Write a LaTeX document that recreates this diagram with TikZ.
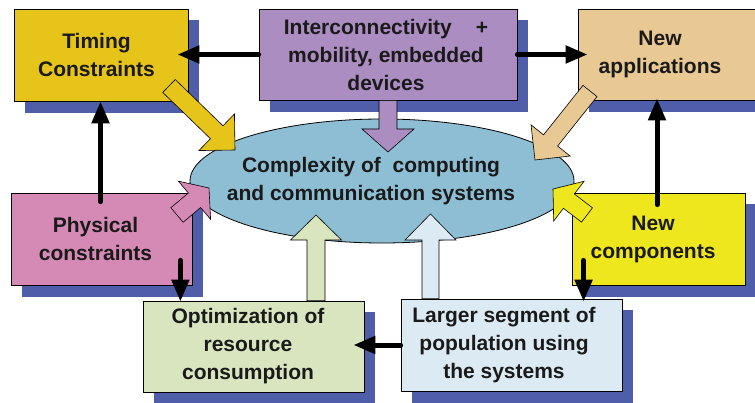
\documentclass[tikz,border=0pt]{standalone}
\usepackage{fontspec}
\setmainfont{Liberation Sans}
\usetikzlibrary{calc,arrows.meta,shapes.geometric}
\definecolor{cTiming}{HTML}{E6C41A}
\definecolor{cInter}{HTML}{AB8DC1}
\definecolor{cApp}{HTML}{E8C893}
\definecolor{cEll}{HTML}{8DBED4}
\definecolor{cPhys}{HTML}{D58AB6}
\definecolor{cOpt}{HTML}{D8E5BF}
\definecolor{cLarge}{HTML}{DCEAF4}
\definecolor{cComp}{HTML}{EEE71E}
\definecolor{cShadow}{HTML}{4E5EA8}
\definecolor{cText}{HTML}{1A1A1A}
\pgfdeclarelayer{bg}
\pgfsetlayers{bg,main}
\newcommand\fatarrow[6]{% #1 fill, #2 tail, #3 tip, #4 shaft half width, #5 head half width, #6 head length
  \coordinate (fahb) at ($(#3)!#6!(#2)$);
  \draw[fat, fill=#1] ($(#2)!#4!90:(#3)$) -- ($(fahb)!#4!90:(#3)$) -- ($(fahb)!#5!90:(#3)$) -- (#3)
    -- ($(fahb)!#5!-90:(#3)$) -- ($(fahb)!#4!-90:(#3)$) -- ($(#2)!#4!-90:(#3)$) -- cycle;}
\newcommand\shadowof[1]{%
  \fill[cShadow] ($(#1.north west)+(11,11)$) rectangle ($(#1.south east)+(11,11.5)$);}
\begin{document}
\begin{tikzpicture}[x=1pt,y=-1pt,
  box/.style={draw=black, line width=0.8pt, inner sep=0pt, rectangle},
  txt/.style={font=\fontsize{21}{28}\selectfont\bfseries, text=cText, align=center, inner sep=0pt},
  blk/.style={line width=5pt, line cap=round, -{Triangle[length=22pt,width=17pt]}},
  fat/.style={draw=black, line width=0.6pt, line join=miter}]
\useasboundingbox (0,0) rectangle (755,403);

% boxes
\node[box, fill=cTiming, minimum width=174pt, minimum height=92pt] (timing) at (101,55) {};
\node[box, fill=cInter, minimum width=258pt, minimum height=91pt] (inter) at (388,54.5) {};
\node[box, fill=cApp, minimum width=187pt, minimum height=91pt] (napp) at (671.5,54.5) {};
\node[box, fill=cPhys, minimum width=181pt, minimum height=92pt] (phys) at (101.5,239) {};
\node[box, fill=cOpt, minimum width=221pt, minimum height=91pt] (opt) at (253.5,346.5) {};
\node[box, fill=cLarge, minimum width=221pt, minimum height=92pt] (large) at (511.5,345) {};
\node[box, fill=cComp, minimum width=173pt, minimum height=92pt] (comp) at (658.5,239) {};
\node[draw=black, line width=0.8pt, fill=cEll, ellipse, inner sep=0pt,
      minimum width=384pt, minimum height=124pt] (ell) at (382,181) {};

\begin{pgfonlayer}{bg}
  \shadowof{timing}\shadowof{inter}\shadowof{napp}\shadowof{phys}
  \shadowof{opt}\shadowof{large}\shadowof{comp}
\end{pgfonlayer}

% texts
\node[txt] (timingT) at ($(timing)+(-4.5,0)$) {Timing\\Constraints};
\node[txt] (interT) at ($(inter)+(-2,0)$) {Interconnectivity\hspace{24pt}+\\mobility, embedded\hspace*{12pt}\\devices};
\node[txt] (nappT) at (660,54.5) {New\\applications};
\node[txt] (physT) at ($(phys)+(-6,0)$) {Physical\\constraints};
\node[txt] (optT) at ($(opt)+(-5.5,0)$) {Optimization of\\resource\\consumption};
\node[txt] (largeT) at ($(large)+(-7.5,0)$) {Larger segment of\\population using\\the systems};
\node[txt] (compT) at ($(comp)+(-5.5,0)$) {New\\components};
\node[txt] (ellT) at ($(ell)+(-11,0)$) {Complexity of~ computing\\and communication systems};

% fat arrows into the ellipse
\coordinate (a1s) at (169,86);   \coordinate (a1e) at (235,150);
\coordinate (a2e) at (388,152);
\coordinate (a3s) at (590,91);   \coordinate (a3e) at (535,160);
\coordinate (a4s) at (177,215);  \coordinate (a4e) at (209,188);
\coordinate (a5s) at (587,215);  \coordinate (a5e) at (553,189);
\coordinate (a6s) at ($(opt.north)+(62.5,0)$);   \coordinate (a6e) at (316,215);
\coordinate (a7s) at ($(large.north)+(-81,0)$);  \coordinate (a7e) at (430.5,214);
\fatarrow{cTiming}{a1s}{a1e}{9pt}{25.5pt}{25.5pt}
\fatarrow{cInter}{inter.south}{a2e}{9pt}{26pt}{23pt}
\fatarrow{cApp}{a3s}{a3e}{9pt}{25pt}{25pt}
\fatarrow{cPhys}{a4s}{a4e}{9.5pt}{25pt}{19pt}
\fatarrow{cComp}{a5s}{a5e}{9pt}{25pt}{20pt}
\fatarrow{cOpt}{a6s}{a6e}{9pt}{25.5pt}{25pt}
\fatarrow{cLarge}{a7s}{a7e}{8.5pt}{25.5pt}{26pt}

% black arrows
\draw[blk] (inter.west) -- ($(timing.east |- inter.west)+(-11,0)$);
\draw[blk] (inter.east) -- ($(napp.west |- inter.east)+(10,0)$);
\coordinate (p1) at ($(phys.north)+(-1,9)$);
\draw[blk] (p1) -- (p1 |- timing.south);
\coordinate (p2) at ($(comp.north)+(-1.5,12)$);
\draw[blk] (p2) -- ($(p2 |- napp.south)+(0,-2)$);
\coordinate (p3) at ($(phys.south east)+(-12,-25)$);
\draw[blk] (p3) -- ($(p3 |- opt.north)+(0,1)$);
\coordinate (p4) at ($(comp.south west)+(12,-25)$);
\draw[blk] (p4) -- ($(p4 |- large.north)+(0,3)$);
\draw[blk] (large.west) -- ($(opt.east |- large.west)+(-11,0)$);
\end{tikzpicture}
\end{document}
